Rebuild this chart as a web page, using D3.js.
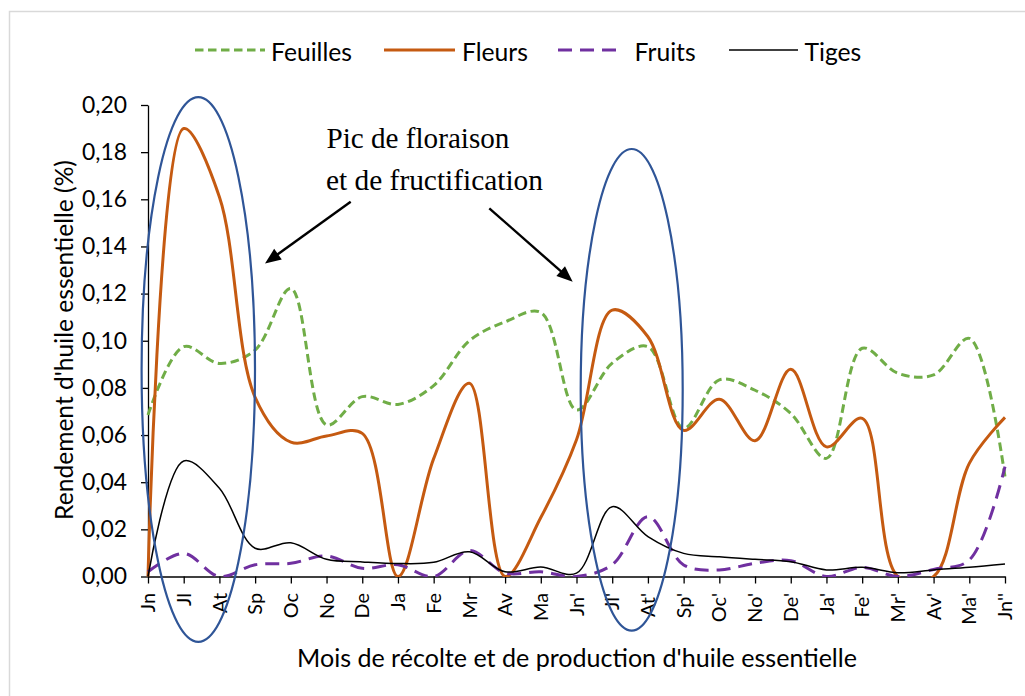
<!DOCTYPE html>
<html>
<head>
<meta charset="utf-8">
<script src="https://cdn.jsdelivr.net/npm/d3@7"></script>
<style>
  body { margin: 0; background: #fff; }
  svg { display: block; }
</style>
</head>
<body>
<svg id="chart" width="1025" height="696"></svg>
<script>
// Harvest months over two years (primes mark the second and third year)
const months = ["Jn", "Jl", "At", "Sp", "Oc", "No", "De", "Ja", "Fe", "Mr", "Av", "Ma",
                "Jn'", "Jl'", "At'", "Sp'", "Oc'", "No'", "De'", "Ja'", "Fe'", "Mr'", "Av'", "Ma'", "Jn''"];

// Essential oil yield (%) per plant organ
const feuilles = [0.0685, 0.0975, 0.0904, 0.096, 0.1222, 0.0643, 0.0763, 0.073, 0.081, 0.100, 0.108, 0.112,
                  0.0706, 0.0905, 0.0975, 0.0629, 0.0834, 0.079, 0.0692, 0.0501, 0.0968, 0.0862, 0.0855, 0.101, 0.0423];
const fleurs   = [0, 0.19, 0.161, 0.076, 0.057, 0.0596, 0.0607, 0, 0.05, 0.082, 0, 0.025,
                  0.058, 0.113, 0.1017, 0.062, 0.0752, 0.0576, 0.0879, 0.055, 0.0671, 0, 0, 0.048, 0.0675];
const fruits   = [0.002, 0.0098, 0, 0.005, 0.0056, 0.0087, 0.0035, 0.005, 0, 0.011, 0.0015, 0.002,
                  0, 0.005, 0.0254, 0.0049, 0.0028, 0.0056, 0.0067, 0, 0.0039, 0, 0.003, 0.007, 0.0466];
const tiges    = [0, 0.049, 0.0374, 0.012, 0.0143, 0.0073, 0.0062, 0.0055, 0.006, 0.0105, 0.002, 0.004,
                  0.0014, 0.0296, 0.0169, 0.0098, 0.0084, 0.0073, 0.0063, 0.0028, 0.0039, 0.0016, 0.0028, 0.0039, 0.0053];

const seriesNames = ["Feuilles", "Fleurs", "Fruits", "Tiges"];
const yTicks = [0, 0.02, 0.04, 0.06, 0.08, 0.10, 0.12, 0.14, 0.16, 0.18, 0.20];

const series = [
  { name: seriesNames[0], values: feuilles, color: "#70AD47", width: 3,   dash: "8.5,4.5" },
  { name: seriesNames[1], values: fleurs,   color: "#C55A11", width: 3,   dash: null },
  { name: seriesNames[2], values: fruits,   color: "#7030A0", width: 3,   dash: "14,8" },
  { name: seriesNames[3], values: tiges,    color: "#000000", width: 1.5, dash: null }
];

const SANS = "Lato, 'Open Sans', sans-serif";
const SERIF = "'Liberation Serif', 'Times New Roman', serif";
const svg = d3.select("#chart");

// scale a text's font size so its advance matches a target width
function fit(sel, target) {
  const fs = parseFloat(sel.attr("font-size"));
  const w = sel.node().getComputedTextLength();
  sel.attr("font-size", (fs * target / w).toFixed(2));
  return parseFloat(sel.attr("font-size"));
}

// outer frame
svg.append("rect")
  .attr("x", 9.5).attr("y", 11.5).attr("width", 1200).attr("height", 900)
  .attr("fill", "none").attr("stroke", "#d9d9d9").attr("stroke-width", 1.5);

const x = d3.scalePoint().domain(months).range([148, 1005]);
const y = d3.scaleLinear().domain([0, 0.2]).range([576.5, 105]);

// Y axis
const fmt = d => d3.format(".2f")(d).replace(".", ",");
const yAxis = svg.append("g").attr("transform", "translate(148,0)")
  .call(d3.axisLeft(y).tickValues(yTicks).tickFormat(fmt).tickSize(7).tickSizeOuter(0).tickPadding(14));
yAxis.selectAll("path, line").attr("stroke", "#000").attr("stroke-width", 1.3);
yAxis.selectAll("text").attr("font-family", SANS).attr("font-size", 22).attr("fill", "#000");
const yLabelSize = fit(yAxis.select(".tick:last-of-type text"), 45);
yAxis.selectAll("text").attr("font-size", yLabelSize);

// X axis
const xAxis = svg.append("g").attr("transform", "translate(0,576.5)")
  .call(d3.axisBottom(x).tickSize(7).tickSizeOuter(0).tickFormat(""));
xAxis.selectAll("path, line").attr("stroke", "#000").attr("stroke-width", 1.3);

const xLabels = svg.append("g").selectAll("text").data(months).join("text")
  .attr("transform", d => `translate(${x(d)},593) rotate(-90)`)
  .attr("text-anchor", "end").attr("dy", "0.36em")
  .attr("font-family", SANS).attr("font-size", 20).attr("fill", "#000")
  .text(d => d);
const xLabelSize = fit(xLabels.filter(d => d === "Ma"), 28);
xLabels.attr("font-size", xLabelSize);

// axis titles
const yTitle = svg.append("text")
  .attr("transform", "translate(63,340) rotate(-90)")
  .attr("text-anchor", "middle").attr("dominant-baseline", "central")
  .attr("font-family", SANS).attr("font-size", 24).attr("fill", "#000")
  .text("Rendement d'huile essentielle (%)");
fit(yTitle, 360);

const xTitle = svg.append("text")
  .attr("x", 577).attr("y", 667).attr("text-anchor", "middle")
  .attr("font-family", SANS).attr("font-size", 24).attr("fill", "#000")
  .text("Mois de récolte et de production d'huile essentielle");
fit(xTitle, 560);

// series lines (smoothed), clipped to the plot area
svg.append("clipPath").attr("id", "plotClip").append("rect")
  .attr("x", 146).attr("y", 95).attr("width", 862).attr("height", 482);

const line = d3.line()
  .x((d, i) => x(months[i]))
  .y(d => y(d))
  .curve(d3.curveCatmullRom.alpha(0.5));

svg.append("g").attr("clip-path", "url(#plotClip)")
  .selectAll("path").data(series).join("path")
  .attr("d", s => line(s.values))
  .attr("fill", "none")
  .attr("stroke", s => s.color)
  .attr("stroke-width", s => s.width)
  .attr("stroke-dasharray", s => s.dash)
  .attr("stroke-linejoin", "round");

// legend
const legendItems = [
  { s: series[0], x0: 195, x1: 265, tx: 271 },
  { s: series[1], x0: 384, x1: 455, tx: 462 },
  { s: series[2], x0: 558, x1: 616, tx: 634.5 },
  { s: series[3], x0: 729, x1: 798, tx: 804.5 }
];
const lg = svg.append("g");
lg.selectAll("line").data(legendItems).join("line")
  .attr("x1", d => d.x0).attr("x2", d => d.x1).attr("y1", 50).attr("y2", 50)
  .attr("stroke", d => d.s.color).attr("stroke-width", d => d.s.width)
  .attr("stroke-dasharray", d => d.s.dash);
const lgText = lg.selectAll("text").data(legendItems).join("text")
  .attr("x", d => d.tx).attr("y", 51).attr("dominant-baseline", "central")
  .attr("font-family", SANS).attr("font-size", 22).attr("fill", "#000")
  .text(d => d.s.name);
const lgSize = fit(lgText.filter(d => d.s.name === "Feuilles"), 81);
lgText.attr("font-size", lgSize);

// highlight ellipses around the flowering / fruiting peaks
svg.append("ellipse").attr("cx", 198.3).attr("cy", 369.5).attr("rx", 56.7).attr("ry", 272.3)
  .attr("fill", "none").attr("stroke", "#2F5597").attr("stroke-width", 2.2);
svg.append("ellipse").attr("cx", 631.7).attr("cy", 389.8).attr("rx", 51).attr("ry", 240.8)
  .attr("fill", "none").attr("stroke", "#2F5597").attr("stroke-width", 2.2);

// annotation
const note = svg.append("g").attr("font-family", SERIF).attr("fill", "#000");
const l1 = note.append("text").attr("x", 326.5).attr("y", 148.3).attr("font-size", 28.5).text("Pic de floraison");
fit(l1, 183);
const l2 = note.append("text").attr("x", 326).attr("y", 190).attr("font-size", 28.5).text("et de fructification");
fit(l2, 217);

function arrow(x0, y0, x1, y1) {
  const dx = x1 - x0, dy = y1 - y0, len = Math.hypot(dx, dy);
  const ux = dx / len, uy = dy / len, px = -uy, py = ux;
  const hl = 16, hw = 6.5;
  const bx = x1 - ux * hl, by = y1 - uy * hl;
  note.append("line").attr("x1", x0).attr("y1", y0).attr("x2", bx + ux * 2).attr("y2", by + uy * 2)
    .attr("stroke", "#000").attr("stroke-width", 2.4);
  note.append("path")
    .attr("d", `M${x1},${y1}L${bx + px * hw},${by + py * hw}L${bx - px * hw},${by - py * hw}Z`)
    .attr("fill", "#000");
}
arrow(350.7, 201.7, 265, 263.5);
arrow(489.3, 208.3, 572.7, 281.7);
</script>
</body>
</html>
